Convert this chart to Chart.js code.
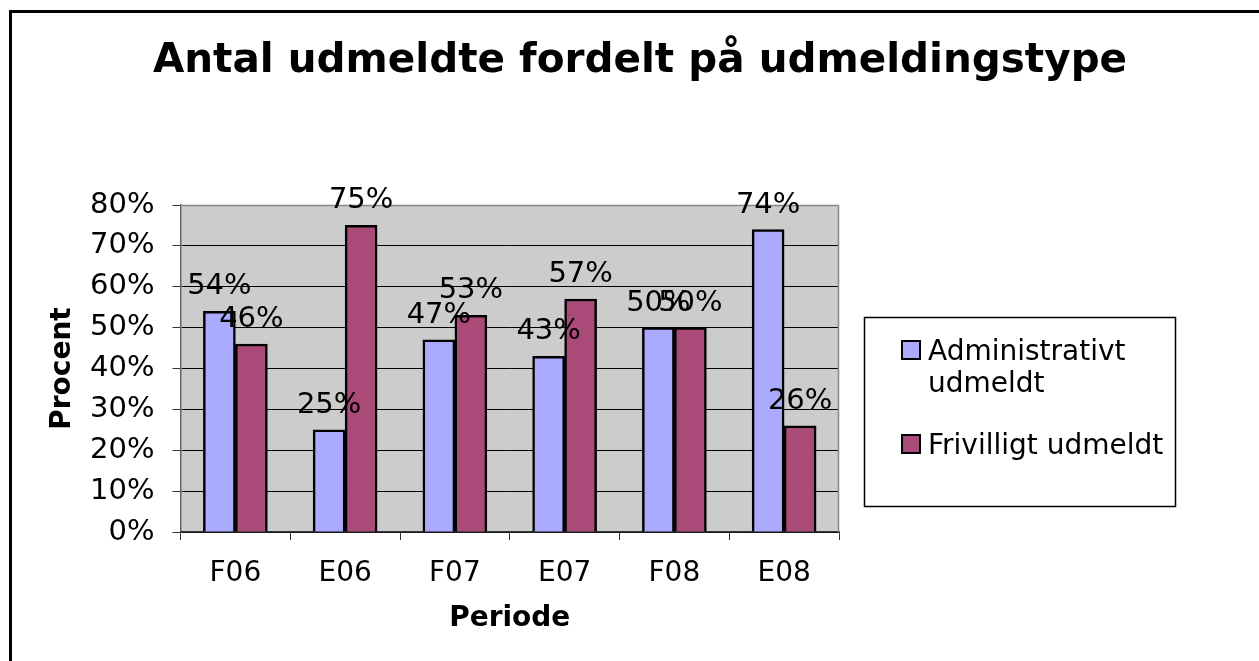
<!DOCTYPE html>
<html>
<head>
<meta charset="utf-8">
<script src="https://cdn.jsdelivr.net/npm/chart.js@4.4.1/dist/chart.umd.min.js"></script>
<style>
  html, body { margin: 0; padding: 0; background: #fff; }
  #wrap { position: relative; width: 1259px; height: 661px; }
</style>
</head>
<body>
<div id="wrap"><canvas id="udmeldteChart"></canvas></div>
<script>
const chartTitle = "Antal udmeldte fordelt på udmeldingstype";
const periods = ["F06", "E06", "F07", "E07", "F08", "E08"];
const administrativt = [54, 25, 47, 43, 50, 74];
const frivilligt = [46, 75, 53, 57, 50, 26];
const yMax = 80;
const yStep = 10;

const FONT = "'DejaVu Sans', Verdana, sans-serif";
Chart.defaults.font.family = FONT;
Chart.defaults.font.size = 28;
Chart.defaults.color = "#000";

// white page, outer frame, title and the grey plot area
const framePlugin = {
  id: "frame",
  beforeDraw(chart) {
    const { ctx, chartArea: a } = chart;
    ctx.save();
    ctx.fillStyle = "#fff";
    ctx.fillRect(0, 0, chart.width, chart.height);
    ctx.strokeStyle = "#000";
    ctx.lineWidth = 3;
    ctx.beginPath();
    ctx.moveTo(10.5, chart.height + 5);
    ctx.lineTo(10.5, 11.5);
    ctx.lineTo(chart.width + 5, 11.5);
    ctx.stroke();
    ctx.fillStyle = "#000";
    ctx.font = "bold 40.5px " + FONT;
    ctx.textAlign = "center";
    ctx.textBaseline = "alphabetic";
    ctx.fillText(chartTitle, 640, 72);
    ctx.fillStyle = "#cccccc";
    ctx.fillRect(a.left, a.top, a.right - a.left, a.bottom - a.top);
    ctx.restore();
  },
  beforeDatasetsDraw(chart) {
    const { ctx, chartArea: a } = chart;
    ctx.save();
    ctx.strokeStyle = "#888";
    ctx.lineWidth = 1.5;
    ctx.beginPath();
    ctx.moveTo(a.left, a.top + 0.5);
    ctx.lineTo(a.right - 0.5, a.top + 0.5);
    ctx.lineTo(a.right - 0.5, a.bottom);
    ctx.stroke();
    ctx.restore();
  },
};

// value labels above each bar
const valueLabels = {
  id: "valueLabels",
  afterDatasetsDraw(chart) {
    const { ctx } = chart;
    ctx.save();
    ctx.font = "29px " + FONT;
    ctx.fillStyle = "#000";
    ctx.textAlign = "center";
    ctx.textBaseline = "alphabetic";
    chart.data.datasets.forEach((ds, i) => {
      chart.getDatasetMeta(i).data.forEach((bar, j) => {
        ctx.fillText(ds.data[j] + "%", bar.x, bar.y - 17);
      });
    });
    ctx.restore();
  },
};

// legend in a box, with word wrap like the original
const boxLegend = {
  id: "boxLegend",
  afterDraw(chart) {
    const { ctx, chartArea: a } = chart;
    const left = a.right + 25, top = 317, w = 311, h = 189;
    ctx.save();
    ctx.fillStyle = "#fff";
    ctx.fillRect(left, top, w, h);
    ctx.strokeStyle = "#000";
    ctx.lineWidth = 1.5;
    ctx.strokeRect(left + 0.5, top + 0.5, w, h);
    ctx.font = "28px " + FONT;
    ctx.textBaseline = "alphabetic";
    const maxW = 245, lineH = 32;
    let baseline = 360;
    chart.data.datasets.forEach((ds) => {
      const words = ds.label.split(" ");
      const lines = [];
      let cur = "";
      words.forEach((wd) => {
        const test = cur ? cur + " " + wd : wd;
        if (cur && ctx.measureText(test).width > maxW) {
          lines.push(cur);
          cur = wd;
        } else cur = test;
      });
      lines.push(cur);
      ctx.fillStyle = ds.backgroundColor;
      ctx.fillRect(left + 38, baseline - 19, 18, 18);
      ctx.strokeStyle = "#000";
      ctx.lineWidth = 2;
      ctx.strokeRect(left + 38, baseline - 19, 18, 18);
      ctx.fillStyle = "#000";
      lines.forEach((ln, k) => ctx.fillText(ln, left + 64, baseline + k * lineH));
      baseline += lines.length * lineH + 30;
    });
    ctx.restore();
  },
};

const ctx = document.getElementById("udmeldteChart");
new Chart(ctx, {
  type: "bar",
  data: {
    labels: periods,
    datasets: [
      {
        label: "Administrativt udmeldt",
        data: administrativt,
        backgroundColor: "#aaaaff",
        borderColor: "#000",
        borderWidth: 2.5,
        barThickness: 32,
      },
      {
        label: "Frivilligt udmeldt",
        data: frivilligt,
        backgroundColor: "#a94a78",
        borderColor: "#000",
        borderWidth: 2.5,
        barThickness: 32,
      },
    ],
  },
  options: {
    responsive: true,
    maintainAspectRatio: false,
    animation: false,
    layout: { padding: { left: 0, right: 420, top: 205, bottom: 0 } },
    scales: {
      y: {
        min: 0,
        max: yMax,
        ticks: {
          stepSize: yStep,
          padding: 18,
          font: { size: 29 },
          callback: (v) => v + "%",
        },
        grid: { color: "#000", lineWidth: 1, tickLength: 8, tickColor: "#333" },
        border: { color: "#666", width: 1.5 },
        title: {
          display: true,
          text: "Procent",
          font: { size: 28, weight: "bold" },
          padding: { top: 46, bottom: 0 },
        },
        afterFit(scale) { scale.width = 180.5; },
      },
      x: {
        ticks: { padding: 17 },
        grid: { drawOnChartArea: false, tickLength: 8, tickColor: "#333" },
        border: { color: "#333", width: 1.5 },
        title: {
          display: true,
          text: "Periode",
          font: { size: 28, weight: "bold" },
          padding: { top: 0, bottom: 25 },
        },
        afterFit(scale) { scale.height = 129; },
      },
    },
    plugins: {
      legend: { display: false },
      tooltip: { enabled: false },
      title: { display: false },
    },
  },
  plugins: [framePlugin, valueLabels, boxLegend],
});
</script>
</body>
</html>
